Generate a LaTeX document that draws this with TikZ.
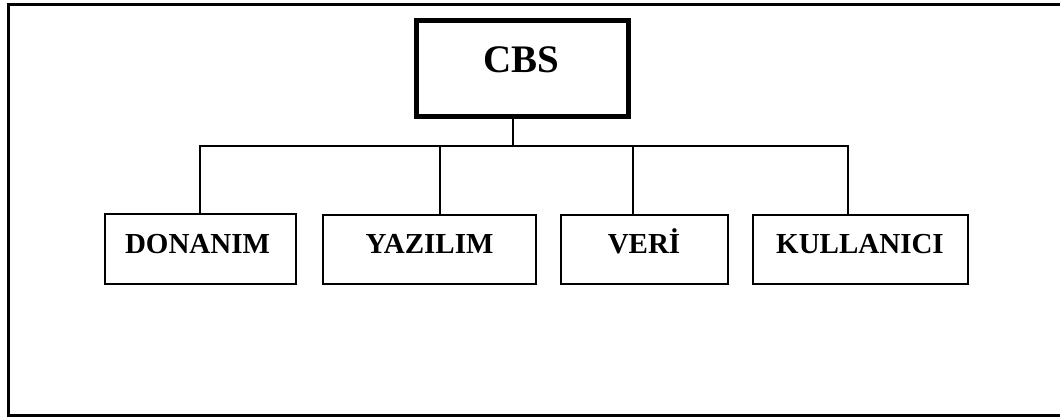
\documentclass[tikz,border=0pt]{standalone}
\usepackage{fontspec}
\setmainfont{Liberation Serif}
\begin{document}
\begin{tikzpicture}[x=1pt,y=-1pt,
  box/.style={draw=black,line width=2pt,inner sep=0pt},
  topbox/.style={draw=black,line width=5pt,inner sep=0pt},
  lbl/.style={font=\bfseries\fontsize{29}{29}\selectfont,anchor=base,inner sep=0pt},
  toplbl/.style={font=\bfseries\fontsize{39}{39}\selectfont,anchor=base,inner sep=0pt},
  conn/.style={draw=black,line width=1.5pt}]
\useasboundingbox (0,0) rectangle (1060,417);
% open frame (right side beyond the picture)
\draw[line width=3pt,line join=miter] (1070,4.5) -- (8.5,4.5) -- (8.5,415) -- (1070,415);
% boxes
\node[topbox,minimum width=212pt,minimum height=96pt] (cbs) at (522.5,68.5) {};
\node[box,minimum width=191pt,minimum height=70pt] (don) at (200.5,249) {};
\node[box,minimum width=213pt,minimum height=69pt] (yaz) at (429.5,249.5) {};
\node[box,minimum width=167pt,minimum height=69pt] (ver) at (644.5,249.5) {};
\node[box,minimum width=215pt,minimum height=69pt] (kul) at (860.5,249.5) {};
% labels
\node[toplbl] (tcbs) at (521,73) {CBS};
\node[lbl] (tdon) at (197.5,253) {DONANIM};
\node[lbl] (tyaz) at (429.5,253) {YAZILIM};
\node[lbl] (tver) at (644,253) {VERİ};
\node[lbl] (tkul) at (860,253) {KULLANICI};
% connectors
\coordinate (bus) at (513,146);
\coordinate (d1) at (200,146);
\coordinate (d2) at (440,146);
\coordinate (d3) at (633,146);
\coordinate (d4) at (848,146);
\draw[conn] (cbs.south -| bus) -- (bus);
\draw[conn] (d1 |- don.north) -- (d1) -- (d4) -- (d4 |- kul.north);
\draw[conn] (d2) -- (d2 |- yaz.north);
\draw[conn] (d3) -- (d3 |- ver.north);
\end{tikzpicture}
\end{document}
